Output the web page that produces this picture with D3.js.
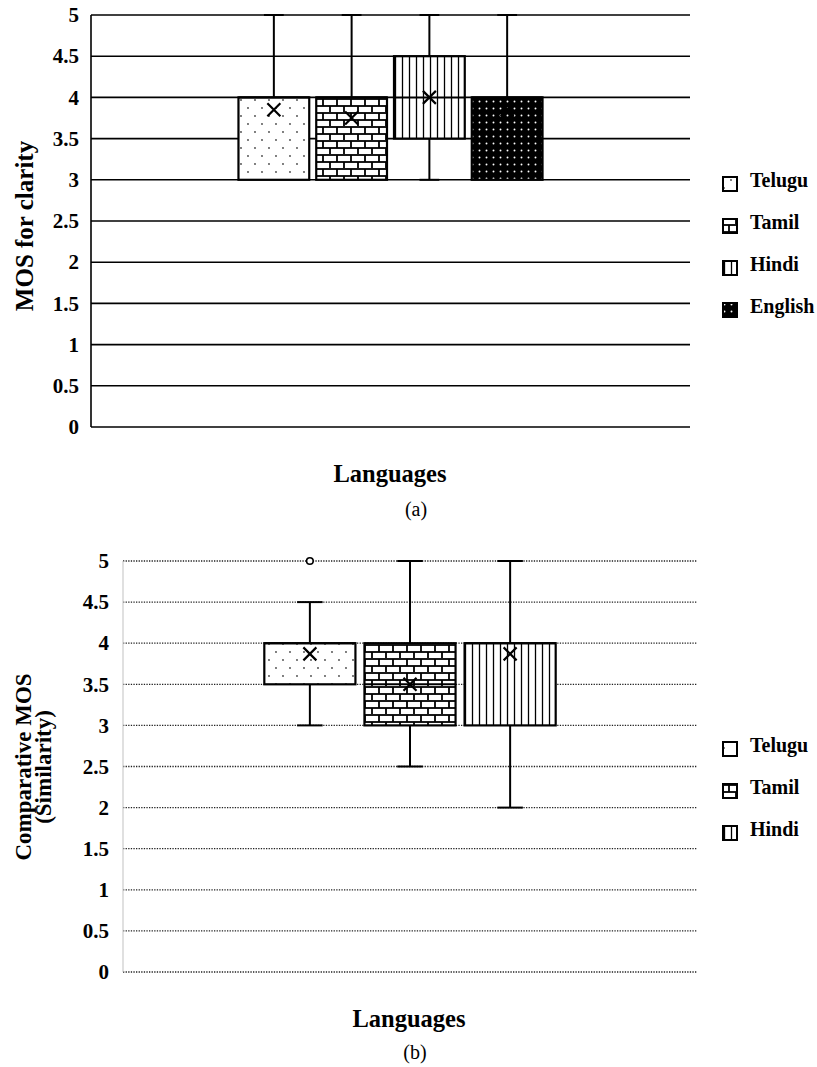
<!DOCTYPE html>
<html><head><meta charset="utf-8">
<script src="https://cdn.jsdelivr.net/npm/d3@7"></script>
<style>body{margin:0;background:#fff}svg{display:block}</style>
</head><body>
<svg id="c" width="817" height="1067"></svg>
<script>
// ---- Data: chart (a) MOS for clarity ----
const langsA = ["Telugu", "Tamil", "Hindi", "English"];
const minA = [3, 3, 3, 3];
const q1A = [3, 3, 3.5, 3];
const medA = [4, 4, 4, 4];
const q3A = [4, 4, 4.5, 4];
const maxA = [5, 5, 5, 5];
const meanA = [3.85, 3.75, 4.0, 3.85];
const outA = [[], [], [], []];

// ---- Data: chart (b) Comparative MOS (Similarity) ----
const langsB = ["Telugu", "Tamil", "Hindi"];
const minB = [3, 2.5, 2];
const q1B = [3.5, 3, 3];
const medB = [4, 3.5, 4];
const q3B = [4, 4, 4];
const maxB = [4.5, 5, 5];
const meanB = [3.87, 3.5, 3.87];
const outB = [[5], [], []];

const yTicks = [0, 0.5, 1, 1.5, 2, 2.5, 3, 3.5, 4, 4.5, 5];
const tickLabels = ["0", "0.5", "1", "1.5", "2", "2.5", "3", "3.5", "4", "4.5", "5"];

const svg = d3.select("#c");
const FONT = "'Liberation Serif', 'Times New Roman', serif";

// ---- patterns ----
const defs = svg.append("defs");
function patDots(id, bg, fg, w, h, pts, r) {
  const p = defs.append("pattern").attr("id", id).attr("patternUnits", "userSpaceOnUse")
    .attr("width", w).attr("height", h);
  p.append("rect").attr("width", w).attr("height", h).attr("fill", bg);
  pts.forEach(([x, y]) => p.append("circle").attr("cx", x).attr("cy", y).attr("r", r).attr("fill", fg));
}
patDots("pTelugu", "#fff", "#444", 14, 16, [[3, 4], [10, 12]], 0.9);
patDots("pEnglish", "#000", "#fff", 7, 7, [[3.5, 3.5]], 0.95);
(function () {
  const p = defs.append("pattern").attr("id", "pTamil").attr("patternUnits", "userSpaceOnUse")
    .attr("width", 14).attr("height", 14);
  p.append("rect").attr("width", 14).attr("height", 14).attr("fill", "#fff");
  const g = p.append("g").attr("stroke", "#000").attr("stroke-width", 1.8);
  g.append("line").attr("x1", 0).attr("x2", 14).attr("y1", 1).attr("y2", 1);
  g.append("line").attr("x1", 0).attr("x2", 14).attr("y1", 8).attr("y2", 8);
  g.append("line").attr("x1", 1).attr("x2", 1).attr("y1", 1).attr("y2", 8);
  g.append("line").attr("x1", 8).attr("x2", 8).attr("y1", 8).attr("y2", 15);
})();
(function () {
  const p = defs.append("pattern").attr("id", "pHindi").attr("patternUnits", "userSpaceOnUse")
    .attr("width", 7).attr("height", 7);
  p.append("rect").attr("width", 7).attr("height", 7).attr("fill", "#fff");
  p.append("line").attr("x1", 3.5).attr("x2", 3.5).attr("y1", 0).attr("y2", 7)
    .attr("stroke", "#000").attr("stroke-width", 1.3);
})();
const fillFor = { Telugu: "url(#pTelugu)", Tamil: "url(#pTamil)", Hindi: "url(#pHindi)", English: "url(#pEnglish)" };

function drawChart(cfg) {
  const g = svg.append("g");
  const y = d3.scaleLinear().domain([0, 5]).range([cfg.y0, cfg.y1]);
  const outer = d3.scaleBand().domain(["Languages"]).range([cfg.x0, cfg.x1]).paddingOuter(0.485).paddingInner(0);
  const x = d3.scaleBand().domain(cfg.langs).range([outer("Languages"), outer("Languages") + outer.bandwidth()]).paddingInner(0.09);

  // gridlines
  const grid = g.append("g");
  yTicks.forEach(t => {
    const l = grid.append("line").attr("x1", cfg.x0).attr("x2", cfg.x1).attr("y1", y(t)).attr("y2", y(t))
      .attr("stroke", "#000");
    if (cfg.dotted) l.attr("stroke-width", 1.3).attr("stroke-dasharray", "1.3,1.3").attr("stroke", "#222");
    else l.attr("stroke-width", 1.6);
  });
  // left axis line
  g.append("line").attr("x1", cfg.x0).attr("x2", cfg.x0).attr("y1", y(0)).attr("y2", y(5))
    .attr("stroke", cfg.dotted ? "#ccc" : "#000").attr("stroke-width", cfg.dotted ? 1.2 : 1.6);

  // tick labels via axis
  const ax = g.append("g").attr("transform", `translate(${cfg.tickX},0)`)
    .call(d3.axisLeft(y).tickValues(yTicks).tickSize(0).tickPadding(0).tickFormat((d, i) => tickLabels[i]));
  ax.select(".domain").remove();
  ax.selectAll("text").attr("font-family", FONT).attr("font-weight", "bold").attr("font-size", 21).attr("fill", "#000");

  // boxes
  cfg.langs.forEach((lang, i) => {
    const bx = x(lang), bw = x.bandwidth(), cx = bx + bw / 2, cap = bw * 0.28;
    const wg = g.append("g").attr("stroke", "#000").attr("stroke-width", 2);
    if (cfg.max[i] > cfg.q3[i]) {
      wg.append("line").attr("x1", cx).attr("x2", cx).attr("y1", y(cfg.q3[i])).attr("y2", y(cfg.max[i]));
      wg.append("line").attr("x1", cx - cap / 2).attr("x2", cx + cap / 2).attr("y1", y(cfg.max[i])).attr("y2", y(cfg.max[i]));
    }
    if (cfg.min[i] < cfg.q1[i]) {
      wg.append("line").attr("x1", cx).attr("x2", cx).attr("y1", y(cfg.q1[i])).attr("y2", y(cfg.min[i]));
      wg.append("line").attr("x1", cx - cap / 2).attr("x2", cx + cap / 2).attr("y1", y(cfg.min[i])).attr("y2", y(cfg.min[i]));
    }
    g.append("rect").attr("x", bx).attr("y", y(cfg.q3[i])).attr("width", bw)
      .attr("height", y(cfg.q1[i]) - y(cfg.q3[i])).attr("fill", fillFor[lang])
      .attr("stroke", "#000").attr("stroke-width", 2.2);
    g.append("line").attr("x1", bx).attr("x2", bx + bw).attr("y1", y(cfg.med[i])).attr("y2", y(cfg.med[i]))
      .attr("stroke", "#000").attr("stroke-width", 2);
    const my = y(cfg.mean[i]), s = 6.5;
    g.append("path").attr("d", `M${cx - s},${my - s}L${cx + s},${my + s}M${cx - s},${my + s}L${cx + s},${my - s}`)
      .attr("stroke", "#000").attr("stroke-width", 2.2).attr("fill", "none");
    cfg.out[i].forEach(o => {
      g.append("circle").attr("cx", cx).attr("cy", y(o)).attr("r", 3.3).attr("fill", "#fff")
        .attr("stroke", "#000").attr("stroke-width", 1.6);
    });
  });

  // y title
  const ty = g.append("text").attr("transform", `translate(${cfg.titleX},${cfg.titleY}) rotate(-90)`)
    .attr("text-anchor", "middle").attr("font-family", FONT).attr("font-weight", "bold").attr("font-size", cfg.titleSize);
  cfg.yTitle.forEach((t, k) => ty.append("tspan").attr("x", 0).attr("dy", k === 0 ? 0 : 20).text(t));

  // x title and caption
  g.append("text").attr("x", cfg.xTitleX).attr("y", cfg.xTitleY).attr("text-anchor", "middle")
    .attr("font-family", FONT).attr("font-weight", "bold").attr("font-size", 24.5).text("Languages");
  g.append("text").attr("x", cfg.capX).attr("y", cfg.capY).attr("text-anchor", "middle")
    .attr("font-family", FONT).attr("font-size", 20).text(cfg.caption);

  // legend
  cfg.langs.forEach((lang, i) => {
    const base = cfg.legY + i * 42;
    g.append("rect").attr("x", cfg.legX).attr("y", base - 10).attr("width", 14).attr("height", 14)
      .attr("fill", fillFor[lang]).attr("stroke", "#000").attr("stroke-width", 2);
    g.append("text").attr("x", cfg.legX + 27).attr("y", base).attr("font-family", FONT)
      .attr("font-weight", "bold").attr("font-size", 20).text(lang);
  });
}

drawChart({
  langs: langsA, min: minA, q1: q1A, med: medA, q3: q3A, max: maxA, mean: meanA, out: outA,
  x0: 91, x1: 690, y0: 427, y1: 15, tickX: 79, dotted: false,
  yTitle: ["MOS for clarity"], titleX: 33, titleY: 226, titleSize: 25,
  xTitleX: 390, xTitleY: 482, capX: 416, capY: 516, caption: "(a)",
  legX: 723, legY: 187
});
drawChart({
  langs: langsB, min: minB, q1: q1B, med: medB, q3: q3B, max: maxB, mean: meanB, out: outB,
  x0: 123, x1: 697, y0: 972, y1: 561, tickX: 109, dotted: true,
  yTitle: ["Comparative MOS", "(Similarity)"], titleX: 31, titleY: 767, titleSize: 23,
  xTitleX: 409, xTitleY: 1027, capX: 415, capY: 1059, caption: "(b)",
  legX: 723, legY: 752
});
</script>
</body></html>
